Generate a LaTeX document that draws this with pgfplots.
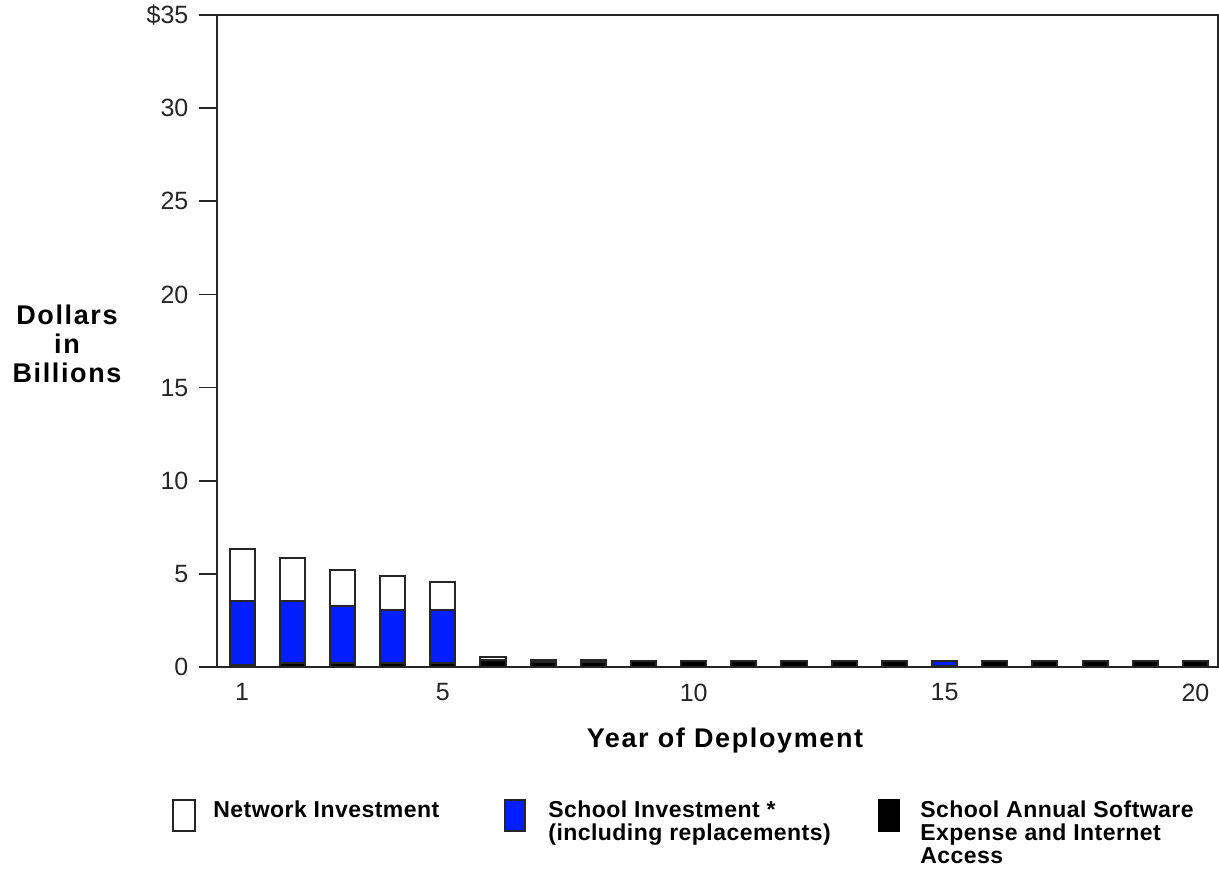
\documentclass[border=0pt]{standalone}
\usepackage{pgfplots}
\pgfplotsset{compat=1.18}
\usepackage{fontspec}
\setmainfont{Liberation Sans}
\newfontfamily\lsA[LetterSpace=6]{Liberation Sans}
\newfontfamily\lsB[LetterSpace=2]{Liberation Sans}
\definecolor{barblue}{RGB}{0,30,255}
\pgfplotstableread{
year soft school network
1  0.10 3.45 2.80
2  0.20 3.35 2.30
3  0.20 3.05 1.95
4  0.20 2.85 1.85
5  0.20 2.85 1.50
6  0.40 0.00 0.15
7  0.25 0.15 0.00
8  0.25 0.15 0.00
9  0.33 0.00 0.00
10 0.33 0.00 0.00
11 0.33 0.00 0.00
12 0.33 0.00 0.00
13 0.33 0.00 0.00
14 0.33 0.00 0.00
15 0.05 0.28 0.00
16 0.33 0.00 0.00
17 0.33 0.00 0.00
18 0.33 0.00 0.00
19 0.33 0.00 0.00
20 0.33 0.00 0.00
}\data
\begin{document}
\begin{tikzpicture}
\path[use as bounding box] (-108.5pt,-101.5pt) rectangle (501pt,333.5pt);
\begin{axis}[
  at={(0pt,0pt)}, anchor=south west,
  scale only axis, width=500.5pt, height=326pt,
  xmin=0.5, xmax=20.45, ymin=0, ymax=35,
  ybar stacked, bar width=0.5,
  xtick={1,5,10,15,20}, xtick style={draw=none},
  ytick={0,5,...,35},
  yticklabels={0,5,10,15,20,25,30,\$35},
  ytick style={black!85, line width=0.8pt},
  tick align=outside, major tick length=9pt,
  xtick pos=bottom, ytick pos=left,
  axis line style={black!85, line width=0.9pt},
  tick label style={font=\fontsize{12.5}{14}\selectfont, text=black!85},
  /pgf/number format/assume math mode=true,
  yticklabel style={xshift=-1.8pt},
  xticklabel style={yshift=4.2pt},
  every axis plot/.append style={draw=black!85, line width=1pt},
]
\addplot[fill=black] table[x=year,y=soft]{\data};
\addplot[fill=barblue] table[x=year,y=school]{\data};
\addplot[fill=white] table[x=year,y=network]{\data};
\end{axis}
\node[font=\lsA\bfseries\fontsize{13.5}{14.5}\selectfont, align=center] at (-75pt,161.5pt) {Dollars\\in\\Billions};
\node[anchor=base, font=\lsA\bfseries\fontsize{13.5}{14.5}\selectfont] at (254pt,-40.5pt) {Year of Deployment};
% legend
\draw[black!85, line width=0.9pt, fill=white] (-22pt,-66.5pt) rectangle (-11pt,-82pt);
\node[anchor=north west, inner sep=0pt, font=\lsB\bfseries\fontsize{11.5}{11.5}\selectfont, align=left] at (-2pt,-66.5pt) {Network Investment};
\draw[black!85, line width=0.9pt, fill=barblue] (144pt,-66.5pt) rectangle (154pt,-82pt);
\node[anchor=north west, inner sep=0pt, font=\lsB\bfseries\fontsize{11.5}{11.5}\selectfont, align=left] at (165.5pt,-66.5pt) {School Investment *\\(including replacements)};
\draw[black, line width=0.9pt, fill=black] (331pt,-66.5pt) rectangle (341pt,-82pt);
\node[anchor=north west, inner sep=0pt, font=\lsB\bfseries\fontsize{11.5}{11.5}\selectfont, align=left] at (351.5pt,-66.5pt) {School Annual Software\\Expense and Internet\\Access};
\end{tikzpicture}
\end{document}
